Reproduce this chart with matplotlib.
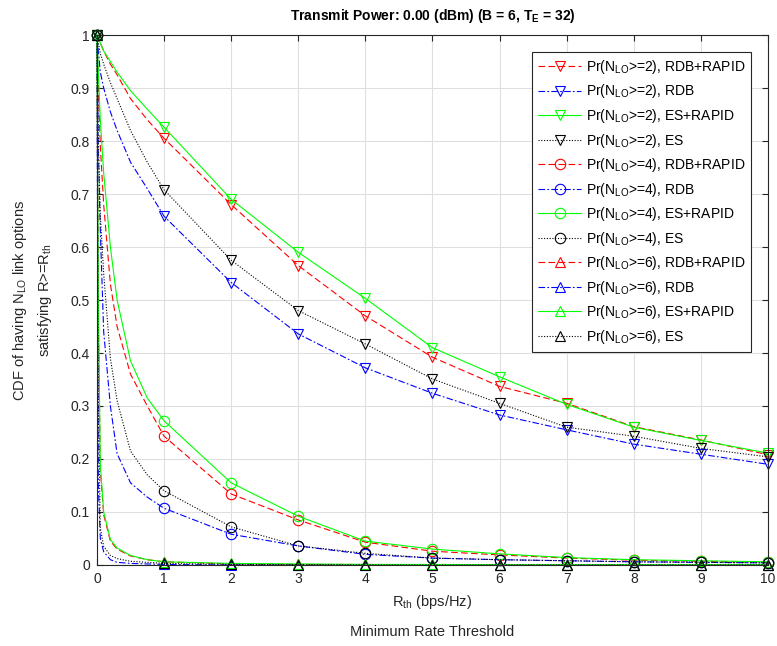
import numpy as np
import matplotlib.pyplot as plt

plt.rcParams['font.family'] = ['Liberation Sans', 'DejaVu Sans']
plt.rcParams['mathtext.fontset'] = 'custom'
plt.rcParams['mathtext.rm'] = 'Liberation Sans'
plt.rcParams['mathtext.it'] = 'Liberation Sans'
plt.rcParams['mathtext.bf'] = 'Liberation Sans:bold'

# Rate threshold grid (bps/Hz)
r_th = [0, 0.02, 0.05, 0.1, 0.2, 0.3, 0.5, 0.75, 1, 2, 3, 4, 5, 6, 7, 8, 9, 10]

# N_LO >= 2
n2_rdb_rapid = [1, 0.995, 0.985, 0.97, 0.945, 0.925, 0.88, 0.84, 0.805,
                0.68, 0.565, 0.47, 0.392, 0.337, 0.305, 0.261, 0.236, 0.208]
n2_rdb = [1, 0.97, 0.93, 0.9, 0.855, 0.82, 0.76, 0.71, 0.658,
          0.533, 0.436, 0.372, 0.324, 0.283, 0.255, 0.228, 0.209, 0.19]
n2_es_rapid = [1, 0.995, 0.985, 0.97, 0.95, 0.93, 0.895, 0.86, 0.826,
               0.69, 0.59, 0.503, 0.41, 0.355, 0.303, 0.26, 0.235, 0.211]
n2_es = [1, 0.985, 0.965, 0.945, 0.91, 0.88, 0.82, 0.76, 0.708,
         0.575, 0.48, 0.417, 0.351, 0.305, 0.26, 0.243, 0.22, 0.204]

# N_LO >= 4
n4_rdb_rapid = [1, 0.9, 0.79, 0.68, 0.53, 0.45, 0.36, 0.3, 0.243,
                0.134, 0.085, 0.043, 0.026, 0.019, 0.013, 0.009, 0.007, 0.005]
n4_rdb = [1, 0.78, 0.63, 0.44, 0.3, 0.21, 0.155, 0.128, 0.107,
          0.058, 0.036, 0.02, 0.013, 0.01, 0.008, 0.006, 0.005, 0.004]
n4_es_rapid = [1, 0.93, 0.84, 0.74, 0.6, 0.5, 0.385, 0.315, 0.272,
               0.155, 0.092, 0.045, 0.03, 0.021, 0.014, 0.01, 0.008, 0.006]
n4_es = [1, 0.8, 0.66, 0.55, 0.39, 0.31, 0.215, 0.17, 0.14,
         0.072, 0.036, 0.022, 0.013, 0.01, 0.008, 0.006, 0.005, 0.004]

# N_LO >= 6
n6_rdb_rapid = [1, 0.47, 0.18, 0.095, 0.045, 0.03, 0.017, 0.01, 0.006,
                0.002, 0.001, 0.001, 0.0005, 0.0005, 0.0005, 0.0005, 0.0005, 0.0005]
n6_rdb = [1, 0.15, 0.05, 0.025, 0.01, 0.005, 0.003, 0.002, 0.001,
          0, 0, 0, 0, 0, 0, 0, 0, 0]
n6_es_rapid = [1, 0.5, 0.19, 0.1, 0.048, 0.032, 0.018, 0.01, 0.006,
               0.003, 0.002, 0.001, 0.001, 0.0005, 0.0005, 0.0005, 0.0005, 0.0005]
n6_es = [1, 0.3, 0.07, 0.035, 0.018, 0.012, 0.007, 0.005, 0.003,
         0.001, 0.0005, 0.0005, 0, 0, 0, 0, 0, 0]

schemes = ["RDB+RAPID", "RDB", "ES+RAPID", "ES"]
colors = ["#ff0000", "#0000ff", "#00ff00", "#000000"]
styles = [(0, (6, 3)), (0, (6, 2, 1.5, 2)), "-", (0, (1, 1.5))]

groups = [
    (2, "v", [n2_rdb_rapid, n2_rdb, n2_es_rapid, n2_es]),
    (4, "o", [n4_rdb_rapid, n4_rdb, n4_es_rapid, n4_es]),
    (6, "^", [n6_rdb_rapid, n6_rdb, n6_es_rapid, n6_es]),
]

# markers only at the integer thresholds
mark_idx = [i for i, v in enumerate(r_th) if float(v).is_integer()]

fig = plt.figure(figsize=(7.77, 6.46), dpi=100)
ax = fig.add_axes([0.1248, 0.1254, 0.8636, 0.8204])

for n, mk, series in groups:
    for name, c, ls, vals in zip(schemes, colors, styles, series):
        ax.plot(r_th, vals, color=c, linestyle=ls, linewidth=0.8,
                marker=mk, markevery=mark_idx, markersize=7.5,
                markerfacecolor="none", markeredgecolor=c,
                markeredgewidth=0.8, clip_on=False,
                label=f"Pr(N$_{{\\mathrm{{LO}}}}$>={n}), {name}")

ax.set_xlim(0, 10)
ax.set_ylim(0, 1)
ax.set_xticks(range(0, 11))
yt = np.arange(0, 1.01, 0.1)
ax.set_yticks(yt)
ax.set_yticklabels(["0"] + [f"{v:.1f}" for v in yt[1:-1]] + ["1"])
ax.grid(True, color="#dfdfdf", linewidth=0.8)
ax.set_axisbelow(True)
ax.tick_params(direction="in", top=True, right=True, length=4,
               labelsize=10, colors="#262626", pad=5)
for s in ax.spines.values():
    s.set_color("#262626")
    s.set_linewidth(0.8)

ax.set_xlabel("R$_{\\mathrm{th}}$ (bps/Hz)\nMinimum Rate Threshold",
              fontsize=10.5, color="#262626", linespacing=2.3, labelpad=5)
ax.set_ylabel("CDF of having N$_{\\mathrm{LO}}$ link options\nsatisfying R>=R$_{\\mathrm{th}}$",
              fontsize=10.5, color="#262626", linespacing=1.5, labelpad=12)
ax.set_title("Transmit Power: 0.00 (dBm) (B = 6, T$_{\\mathbf{E}}$ = 32)",
             fontsize=10, fontweight="bold", pad=11)

leg = ax.legend(loc="upper right", fontsize=10, fancybox=False,
                edgecolor="#262626", framealpha=1, borderaxespad=1.2,
                labelspacing=0.47, handlelength=3.1, handletextpad=0.3,
                borderpad=0.45)
leg.get_frame().set_linewidth(0.8)

fig.savefig("out.png", dpi=100)
